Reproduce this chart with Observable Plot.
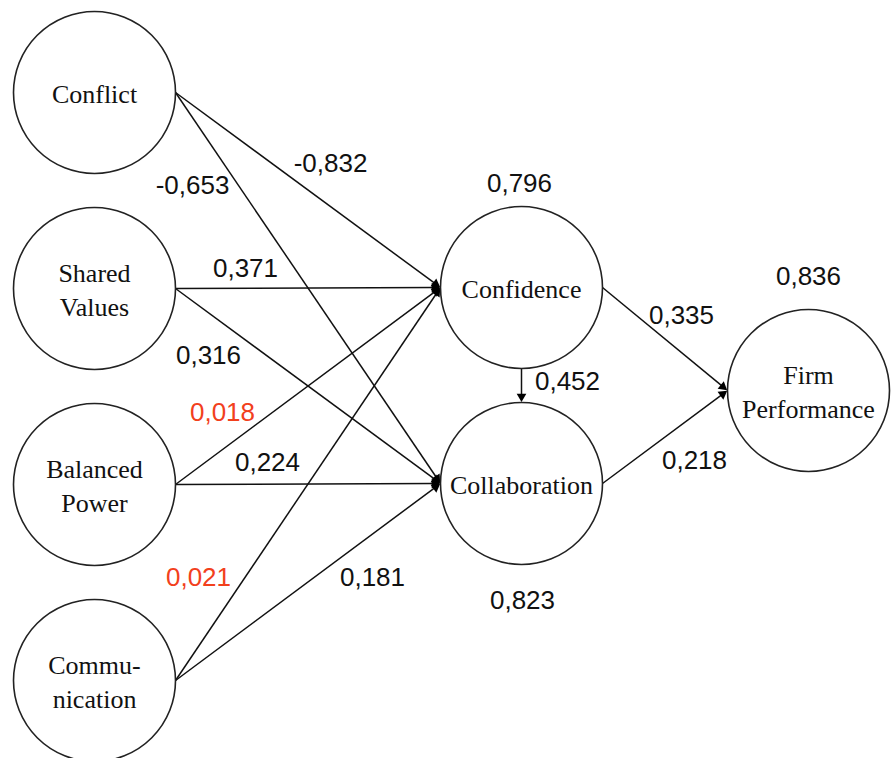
<!DOCTYPE html>
<html>
<head>
<meta charset="utf-8">
<script src="https://cdn.jsdelivr.net/npm/d3@7"></script>
<script src="https://cdn.jsdelivr.net/npm/@observablehq/plot@0.6"></script>
<style>
  html, body { margin: 0; padding: 0; background: #fff; }
  #chart svg { display: block; }
</style>
</head>
<body>
<div id="chart"></div>
<script>
// ---- Data ----
const nodeNames = ["Conflict", "Shared Values", "Balanced Power", "Communication", "Confidence", "Collaboration", "Firm Performance"];
const nodeLabels = ["Conflict", "Shared\nValues", "Balanced\nPower", "Commu-\nnication", "Confidence", "Collaboration", "Firm\nPerformance"];

const pathFrom = ["Conflict", "Conflict", "Shared Values", "Shared Values", "Balanced Power", "Balanced Power", "Communication", "Communication", "Confidence", "Confidence", "Collaboration"];
const pathTo   = ["Confidence", "Collaboration", "Confidence", "Collaboration", "Confidence", "Collaboration", "Confidence", "Collaboration", "Collaboration", "Firm Performance", "Firm Performance"];
const pathCoef = [-0.832, -0.653, 0.371, 0.316, 0.018, 0.224, 0.021, 0.181, 0.452, 0.335, 0.218];
const pathNonSignificant = [false, false, false, false, true, false, true, false, false, false, false];

const r2Nodes = ["Confidence", "Collaboration", "Firm Performance"];
const r2Values = [0.796, 0.823, 0.836];

// ---- Layout (pixel positions) ----
const W = 891, H = 758, R = 81;
const nodeX = [94, 94, 94, 94, 521, 521, 808];
const nodeY = [92, 288, 484, 680, 287, 483, 390];
const coefLabelX = [330, 192, 245, 208, 222, 267, 198, 372, 567, 681, 694];
const coefLabelY = [163, 185, 268, 355, 412, 462, 577, 577, 381, 315, 460];
const r2LabelX = [519, 522, 808];
const r2LabelY = [183, 600, 276];

const fmt = v => v.toFixed(3).replace(".", ",");
const idx = name => nodeNames.indexOf(name);

const nodes = nodeNames.map((n, i) => ({name: n, label: nodeLabels[i], x: nodeX[i], y: nodeY[i]}));
const HEAD = 6; // distance from tip to triangle centroid
const paths = pathFrom.map((f, i) => {
  const a = nodes[idx(f)], b = nodes[idx(pathTo[i])];
  const horizontal = Math.abs(b.x - a.x) > R;
  const x1 = horizontal ? a.x + R : a.x;
  const y1 = horizontal ? a.y : a.y + R;
  const x2 = horizontal ? b.x - R : b.x;
  const y2 = horizontal ? b.y : b.y - R;
  const len = Math.hypot(x2 - x1, y2 - y1);
  const ux = (x2 - x1) / len, uy = (y2 - y1) / len;
  return {
    x1, y1, x2, y2,
    hx: x2 - ux * HEAD, hy: y2 - uy * HEAD,
    angle: Math.atan2(ux, -uy) * 180 / Math.PI,
    label: fmt(pathCoef[i]),
    red: pathNonSignificant[i],
    lx: coefLabelX[i], ly: coefLabelY[i]
  };
});
const r2 = r2Nodes.map((n, i) => ({label: fmt(r2Values[i]), x: r2LabelX[i], y: r2LabelY[i]}));

const serif = "'Liberation Serif', 'Times New Roman', serif";
const sans = "'Liberation Sans', Arial, sans-serif";

const chart = Plot.plot({
  width: W, height: H, margin: 0,
  x: {domain: [0, W], range: [0, W], axis: null},
  y: {domain: [0, H], range: [0, H], axis: null},
  style: {background: "#fff"},
  marks: [
    Plot.link(paths, {x1: "x1", y1: "y1", x2: "hx", y2: "hy", stroke: "#111", strokeWidth: 1.5}),
    Plot.dot(paths, {x: "hx", y: "hy", symbol: "triangle", r: 3.6, rotate: "angle", fill: "#000", stroke: "none"}),
    Plot.dot(nodes, {x: "x", y: "y", r: R, stroke: "#222", strokeWidth: 1.6, fill: "none"}),
    Plot.text(nodes, {x: "x", y: "y", text: "label", fontFamily: serif, fontSize: 26, lineHeight: 1.3, letterSpacing: 0.6, fill: "#111"}),
    Plot.text(paths, {x: "lx", y: "ly", text: "label", fontFamily: sans, fontSize: 26, fill: d => d.red ? "#f2401c" : "#111"}),
    Plot.text(r2, {x: "x", y: "y", text: "label", fontFamily: sans, fontSize: 26, fill: "#111"})
  ]
});
document.getElementById("chart").appendChild(chart);
</script>
</body>
</html>
